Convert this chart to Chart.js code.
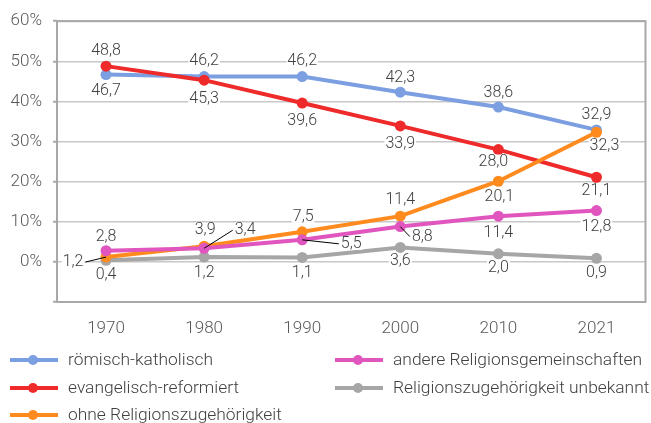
<!DOCTYPE html>
<html>
<head>
<meta charset="utf-8">
<script src="https://cdn.jsdelivr.net/npm/chart.js@4.4.1/dist/chart.umd.min.js"></script>
<style>
  html, body { margin: 0; padding: 0; background: #fff; }
  #wrap { position: relative; width: 651px; height: 423px; }
</style>
</head>
<body>
<div id="wrap"><canvas id="myChart" width="651" height="423"></canvas></div>
<script>
// Data (percent)
let years = ['1970', '1980', '1990', '2000', '2010', '2021'];
let katholisch = [46.7, 46.2, 46.2, 42.3, 38.6, 32.9];
let reformiert = [48.8, 45.3, 39.6, 33.9, 28.0, 21.1];
let ohne = [1.2, 3.9, 7.5, 11.4, 20.1, 32.3];
let andere = [2.8, 3.4, 5.5, 8.8, 11.4, 12.8];
let unbekannt = [0.4, 1.2, 1.1, 3.6, 2.0, 0.9];
let yTicks = [-10, 0, 10, 20, 30, 40, 50, 60];

let seriesNames = [
    'römisch-katholisch',
    'evangelisch-reformiert',
    'ohne Religionszugehörigkeit',
    'andere Religionsgemeinschaften',
    'Religionszugehörigkeit unbekannt'
];
let colors = ['#7c9fe1', '#ee2a2a', '#ff8a1e', '#e056be', '#a6a6a6'];

// where each value label sits relative to its point [dx, dy, leader line]
let labelPlacement = [
    [[0, 15], [0, -17], [0, -17], [0, -15], [0, -15], [0, -16]],
    [[0, -16], [0, 18], [0, 17], [0, 17], [-5, 11], [0, 13]],
    [[-33, 4, true], [1, -17], [1, -16], [0, -17], [1, 15], [8, 13]],
    [[0, -15], [41, -19, true], [49, 3, true], [22, 9, true], [0, 16], [0, 15]],
    [[0, 14], [0, 15], [0, 15], [0, 13], [0, 13], [0, 14]]
];

const FONT = 'Roboto, "Noto Sans", sans-serif';

function fmt(v) {
    return v.toFixed(1).replace('.', ',');
}

// white-backed value labels, some with thin leader lines
const valueLabels = {
    id: 'valueLabels',
    afterDatasetsDraw(chart) {
        const ctx = chart.ctx;
        ctx.save();
        ctx.font = '300 16px ' + FONT;
        ctx.textAlign = 'center';
        ctx.textBaseline = 'middle';
        chart.data.datasets.forEach((ds, i) => {
            const meta = chart.getDatasetMeta(i);
            meta.data.forEach((pt, j) => {
                const p = labelPlacement[i][j];
                const text = fmt(ds.data[j]);
                const w = ctx.measureText(text).width;
                const cx = pt.x + p[0];
                const cy = pt.y + p[1];
                if (p[2]) {
                    const ex = p[0] < 0 ? cx + w / 2 + 2 : cx - w / 2 - 2;
                    ctx.strokeStyle = '#000';
                    ctx.lineWidth = 1;
                    ctx.beginPath();
                    ctx.moveTo(pt.x, pt.y);
                    ctx.lineTo(ex, cy + 1);
                    ctx.stroke();
                }
                ctx.fillStyle = '#fff';
                ctx.fillRect(cx - w / 2 - 1, cy - 6, w + 2, 13);
                ctx.fillStyle = '#404040';
                ctx.fillText(text, cx, cy + 1);
            });
        });
        ctx.restore();
    }
};

// grey frame round the plot area
const frame = {
    id: 'frame',
    beforeDatasetsDraw(chart) {
        const a = chart.chartArea;
        const ctx = chart.ctx;
        ctx.save();
        ctx.strokeStyle = '#a8a8a8';
        ctx.lineWidth = 2;
        ctx.strokeRect(a.left, a.top, a.right - a.left, a.bottom - a.top);
        ctx.restore();
    }
};

// two-column legend under the chart
const legendBox = {
    id: 'legendBox',
    afterDraw(chart) {
        const ctx = chart.ctx;
        const spots = [[10, 360], [10, 388], [10, 415], [335, 360], [335, 388]];
        ctx.save();
        ctx.font = '300 17.4px ' + FONT;
        ctx.textBaseline = 'middle';
        ctx.textAlign = 'left';
        chart.data.datasets.forEach((ds, i) => {
            const [x, y] = spots[i];
            ctx.strokeStyle = ds.borderColor;
            ctx.lineWidth = 4;
            ctx.beginPath();
            ctx.moveTo(x, y);
            ctx.lineTo(x + 48, y);
            ctx.stroke();
            ctx.fillStyle = ds.borderColor;
            ctx.beginPath();
            ctx.arc(x + 23, y, 5, 0, Math.PI * 2);
            ctx.fill();
            ctx.fillStyle = '#404040';
            ctx.fillText(ds.label, x + 58, y + 1);
        });
        ctx.restore();
    }
};

let seriesData = [katholisch, reformiert, ohne, andere, unbekannt];
let drawOrder = [4, 3, 2, 1, 5];

let ctx = document.getElementById('myChart').getContext('2d');
let myChart = new Chart(ctx, {
    type: 'line',
    data: {
        labels: years,
        datasets: seriesData.map((d, i) => ({
            label: seriesNames[i],
            data: d,
            borderColor: colors[i],
            backgroundColor: colors[i],
            pointBackgroundColor: colors[i],
            borderWidth: 4,
            pointRadius: 5.5,
            pointBorderWidth: 0,
            tension: 0,
            order: drawOrder[i]
        }))
    },
    options: {
        responsive: false,
        animation: false,
        layout: { padding: { left: 0, top: 21, right: 3, bottom: 81 } },
        plugins: {
            legend: { display: false },
            tooltip: { enabled: false }
        },
        scales: {
            x: {
                offset: true,
                grid: { display: false },
                border: { display: false },
                ticks: {
                    color: '#595959',
                    font: { family: FONT, size: 17, weight: 300 },
                    padding: 9
                },
                afterFit: s => { s.height = 40; }
            },
            y: {
                min: -10,
                max: 60,
                afterBuildTicks: s => { s.ticks = yTicks.map(v => ({ value: v })); },
                grid: {
                    color: '#c8c8c8',
                    lineWidth: 1.5,
                    tickLength: 4,
                    tickColor: '#a8a8a8',
                    tickWidth: 2
                },
                border: { display: false },
                ticks: {
                    color: '#595959',
                    font: { family: FONT, size: 17, weight: 300 },
                    padding: 11,
                    callback: v => v < 0 ? '' : v + '%'
                },
                afterFit: s => { s.width = 57; }
            }
        }
    },
    plugins: [frame, valueLabels, legendBox]
});
</script>
</body>
</html>
